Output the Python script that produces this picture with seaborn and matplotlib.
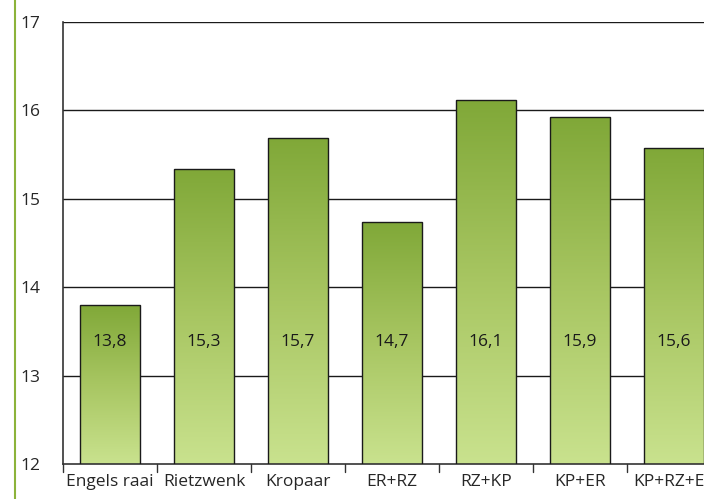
import numpy as np
import pandas as pd
import matplotlib
matplotlib.use("Agg")
import matplotlib.pyplot as plt
from matplotlib.colors import LinearSegmentedColormap
from matplotlib.lines import Line2D
import seaborn as sns

# ===========================
# Data
# ===========================
categories = ["Engels raai", "Rietzwenk", "Kropaar", "ER+RZ", "RZ+KP", "KP+ER", "KP+RZ+ER"]
values = [13.8, 15.34, 15.69, 14.74, 16.12, 15.92, 15.58]
yticks = [12, 13, 14, 15, 16, 17]

df = pd.DataFrame({"cat": categories, "val": values})

sns.set_style("white")
plt.rcParams["font.family"] = ["Open Sans", "DejaVu Sans"]
FS = 12.5

fig = plt.figure(figsize=(7.04, 4.99), dpi=100)
ax = fig.add_axes([63 / 704, 35 / 499, 658 / 704, 442 / 499])

sns.barplot(data=df, x="cat", y="val", ax=ax, width=0.64, color="#9aba55",
            edgecolor="#1a1a1a", linewidth=1.0, zorder=3)

# gradient fill inside each bar
cmap = LinearSegmentedColormap.from_list("grn", ["#c9e28e", "#a8c662", "#80a838"])
grad = np.linspace(0, 1, 256).reshape(-1, 1)
for p in ax.patches:
    x0, w = p.get_x(), p.get_width()
    top = p.get_height()
    p.set_facecolor("none")
    im = ax.imshow(grad, cmap=cmap, origin="lower", aspect="auto",
                   extent=[x0, x0 + w, 12, top], zorder=2.5)
    im.set_clip_path(p)

ax.set_xlim(-0.5, len(categories) - 0.5)
ax.set_ylim(12, 17)

# value labels
for i, v in enumerate(values):
    ax.text(i, 13.38, f"{v:.1f}".replace(".", ","), ha="center", va="center",
            fontsize=FS, color="#1a1a1a", zorder=5)

# grid and spines
ax.set_yticks(yticks)
ax.set_yticklabels([str(t) for t in yticks], fontsize=FS)
for t in yticks[1:]:
    ax.axhline(t, color="#1a1a1a", linewidth=1.0, zorder=1)

ax.set_xticks(range(len(categories)))
ax.set_xticklabels(categories, fontsize=FS)
ax.tick_params(axis="x", length=0, pad=7)
ax.tick_params(axis="y", length=8, width=1, color="#333333", direction="out", pad=8)
for i in range(len(categories)):
    ax.plot([i - 0.5, i - 0.5], [0, -0.018], transform=ax.get_xaxis_transform(),
            color="#333333", linewidth=1, clip_on=False)

for s in ["left", "bottom"]:
    ax.spines[s].set_color("#333333")
    ax.spines[s].set_linewidth(1.2)
ax.spines["top"].set_visible(False)
ax.spines["right"].set_visible(False)
ax.set_xlabel("")
ax.set_ylabel("")

# green vertical rule on the left
fig.add_artist(Line2D([15 / 704, 15 / 704], [0, 1], color="#8cb33a", linewidth=1.5,
                      transform=fig.transFigure))

fig.savefig("out.png", dpi=100)
